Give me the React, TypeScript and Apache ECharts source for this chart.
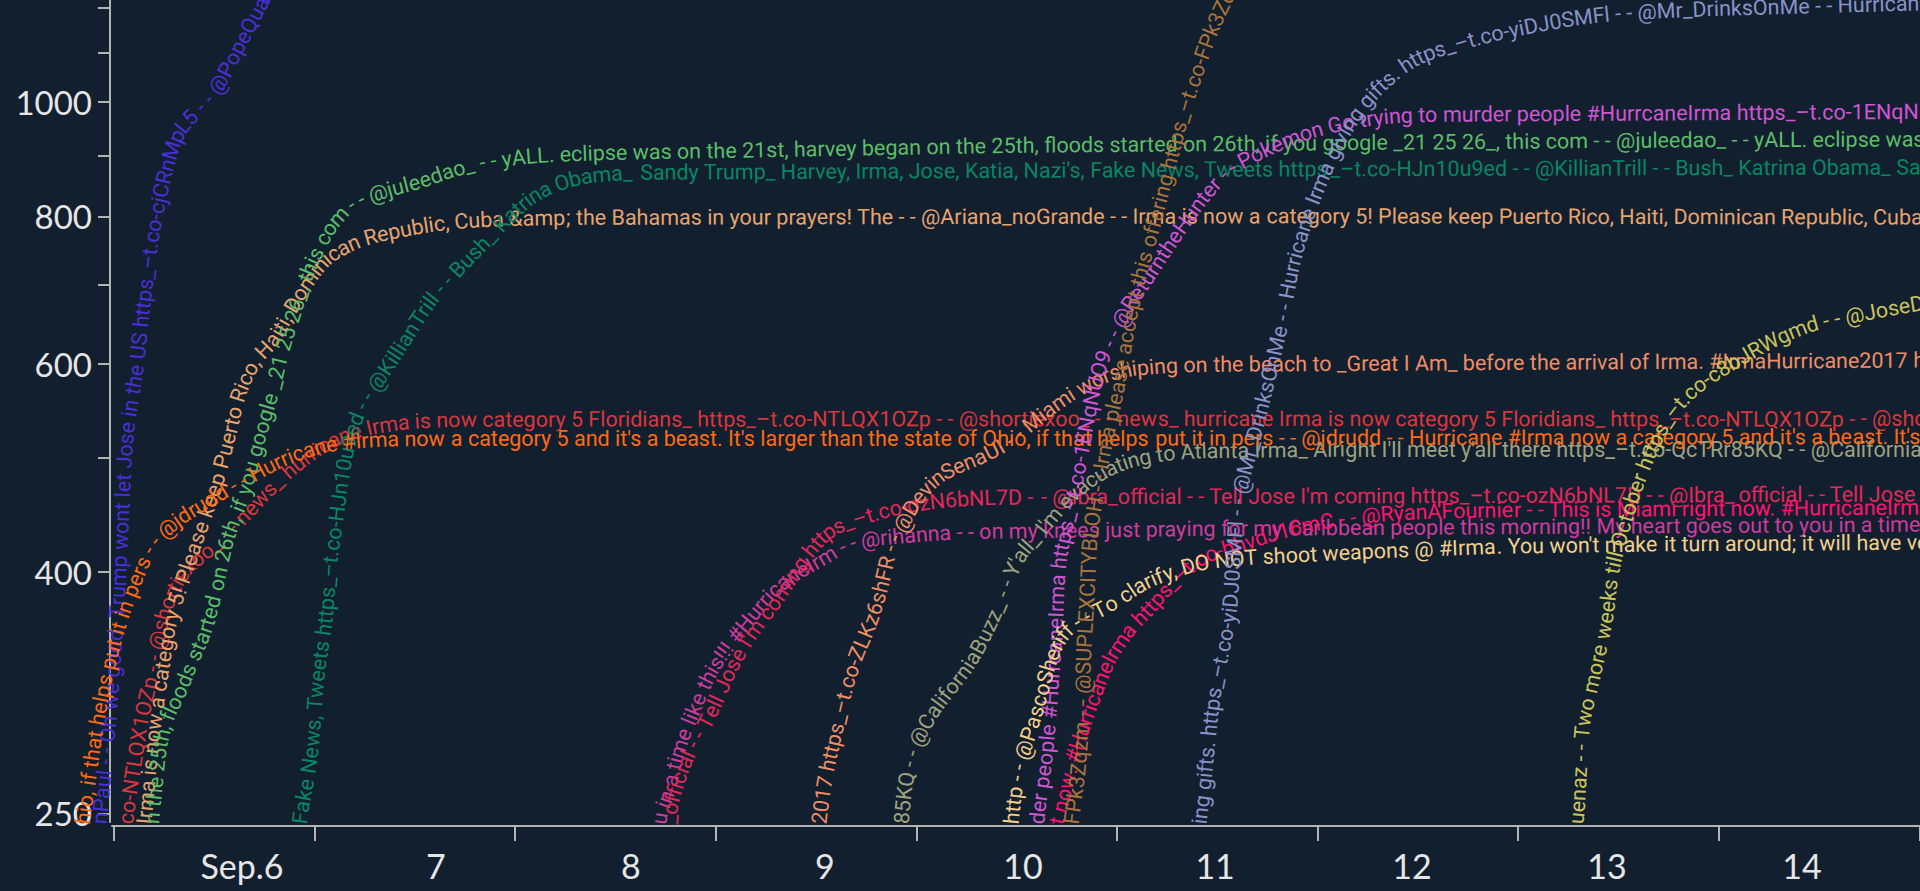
import React, { useEffect, useRef } from "react";
import * as echarts from "echarts";

// ---------- data ----------
// x values are days of September 2017 (6.5 = Sep 6, 12:00)

// draw order (later = on top)
const users = [
  "PopeQuanPaul", "shortiexoo_", "Ariana_noGrande", "juleedao_", "KillianTrill", "rihanna",
  "Ibra_official", "DevinSenaUI", "CaliforniaBuzz_", "jdrudd", "ReturntheHunter",
  "RyanAFournier", "PascoSheriff", "SUPLEXCITYBLOH", "Mr_DrinksOnMe", "JoseDuenaz",
];
const tweets = [
  "Oh we good. Trump wont let Jose in the US https_–t.co-cjCRnMpL5",
  "news_ hurricane Irma is now category 5 Floridians_ https_–t.co-NTLQX1OZp",
  "Irma is now a category 5! Please keep Puerto Rico, Haiti, Dominican Republic, Cuba &amp; the Bahamas in your prayers! The",
  "yALL. eclipse was on the 21st, harvey began on the 25th, floods started on 26th, if you google _21 25 26_, this com",
  "Bush_ Katrina Obama_ Sandy Trump_ Harvey, Irma, Jose, Katia, Nazi's, Fake News, Tweets https_–t.co-HJn10u9ed",
  "on my knees just praying for my Caribbean people this morning!! My heart goes out to you in a time like this!!! #HurricaneIrm",
  "Tell Jose I'm coming https_–t.co-ozN6bNL7D",
  "Miami worshiping on the beach to _Great I Am_ before the arrival of Irma. #IrmaHurricane2017 https_–t.co-ZLKz6shFR",
  "Y'all_ I'm evacuating to Atlanta Irma_ Alright I'll meet y'all there https_–t.co-QcTRr85KQ",
  "Hurricane #Irma now a category 5 and it's a beast. It's larger than the state of Ohio, if that helps put it in pers",
  "Pokemon Go trying to murder people #HurrcaneIrma https_–t.co-1ENqNUO9",
  "This is Miami right now. #HurricaneIrma https_–t.co-bhvdJ16mC",
  "To clarify, DO NOT shoot weapons @ #Irma. You won't make it turn around; it will have very dangerous side effects. http",
  "Irma please accept this offering https_–t.co-FPk3Zqzm",
  "Hurricane Irma giving gifts. https_–t.co-yiDJ0SMFl",
  "Two more weeks till October https_–t.co-c8bJRWgmd",
];
const starts = [
  "nPaul - -", "co-NTLQX1OZp", "nde - - Irma", "n the 25th", "Fake News", "u in a time",
  "_official", "2017 https", "85KQ", "hio, if that", "der people", "t now. #Hurr",
  "http - -", "FPk3Zqzm - -", "ing gifts.", "uenaz - -",
];
const colors = [
  "#4b2fd6", "#d9363e", "#e8a46c", "#5cbd68", "#0a8562", "#cc3c9e",
  "#e2285a", "#ef8e64", "#9ea27e", "#ff6a13", "#cf55d3",
  "#ff136f", "#f2d08c", "#a8743c", "#8a92c8", "#c9c45a",
];

const days: number[][] = [
  [5.915, 5.93, 5.965, 5.99, 6.015, 6.035, 6.055, 6.08, 6.11, 6.135, 6.16, 6.189, 6.229, 6.279, 6.319, 6.404, 6.494, 6.603, 6.728, 6.852],
  [6.04, 6.06, 6.095, 6.135, 6.179, 6.214, 6.269, 6.354, 6.479, 6.628, 6.768, 6.927, 7.092, 7.276, 7.525, 8.423, 15.003, 15.402],
  [6.13, 6.155, 6.189, 6.234, 6.279, 6.359, 6.444, 6.508, 6.568, 6.628, 6.703, 6.778, 6.877, 6.952, 7.062, 7.226, 7.426, 7.675, 8.024, 15.003, 15.402],
  [6.174, 6.189, 6.204, 6.229, 6.269, 6.319, 6.389, 6.454, 6.518, 6.563, 6.643, 6.728, 6.788, 6.842, 6.902, 6.957, 7.017, 7.082, 7.176, 7.326, 7.505, 7.75, 8.024, 8.921, 10.217, 12.61, 15.003, 15.402],
  [6.917, 6.927, 6.977, 7.012, 7.052, 7.077, 7.107, 7.137, 7.171, 7.211, 7.256, 7.336, 7.416, 7.5, 7.59, 7.71, 7.825, 7.974, 8.109, 8.308, 8.522, 8.921, 10.417, 15.003, 15.402],
  [8.702, 8.722, 8.762, 8.807, 8.871, 8.971, 9.061, 9.161, 9.32, 9.519, 9.684, 9.918, 10.217, 12.61, 15.003, 15.402],
  [8.757, 8.772, 8.802, 8.832, 8.882, 8.937, 9.006, 9.086, 9.196, 9.281, 9.371, 9.47, 9.57, 9.719, 9.918, 10.217, 11.414, 15.003, 15.402],
  [9.499, 9.514, 9.544, 9.574, 9.609, 9.644, 9.699, 9.759, 9.809, 9.843, 9.873, 9.933, 9.983, 10.103, 10.217, 10.302, 10.432, 10.541, 10.666, 10.816, 10.99, 11.214, 11.912, 15.003, 15.402],
  [9.913, 9.928, 9.948, 9.968, 10.003, 10.078, 10.167, 10.247, 10.327, 10.392, 10.437, 10.477, 10.526, 10.591, 10.716, 10.865, 11.04, 11.264, 11.663, 15.003, 15.402],
  [5.821, 5.845, 5.88, 5.92, 5.97, 6.04, 6.115, 6.189, 6.279, 6.394, 6.628, 6.872, 7.077, 7.326, 8.423, 10.417, 15.003, 15.402],
  [10.586, 10.606, 10.641, 10.666, 10.691, 10.701, 10.721, 10.751, 10.781, 10.825, 10.865, 10.915, 10.98, 11.04, 11.15, 11.239, 11.339, 11.439, 11.553, 11.663, 11.788, 11.937, 12.102, 12.376, 12.909, 15.003, 15.402],
  [10.676, 10.696, 10.726, 10.756, 10.791, 10.855, 10.915, 10.965, 11.055, 11.15, 11.214, 11.314, 11.414, 11.638, 11.897, 12.276, 12.61, 15.003, 15.402],
  [10.457, 10.472, 10.487, 10.511, 10.551, 10.591, 10.631, 10.666, 10.716, 10.776, 10.84, 10.915, 11.015, 11.13, 11.264, 11.389, 11.613, 12.062, 12.51, 12.909, 15.003, 15.402],
  [10.756, 10.771, 10.801, 10.821, 10.83, 10.835, 10.85, 10.865, 10.9, 10.94, 11.0, 11.055, 11.105, 11.164, 11.239, 11.314, 11.389, 11.464, 11.538, 11.638],
  [11.394, 11.409, 11.429, 11.444, 11.474, 11.504, 11.529, 11.563, 11.573, 11.588, 11.603, 11.703, 11.788, 11.828, 11.887, 11.992, 12.137, 12.266, 12.476, 12.76, 13.009, 13.408, 13.906, 14.405, 15.003, 15.402],
  [13.273, 13.288, 13.298, 13.308, 13.323, 13.373, 13.433, 13.463, 13.497, 13.532, 13.607, 13.722, 13.856, 14.091, 14.355, 14.47, 14.704, 15.003, 15.402],
];
// cumulative counts at those times
const counts: number[][] = [
  [224, 249, 286, 324, 372, 434, 508, 554, 593, 654, 707, 771, 834, 902, 943, 980, 1017, 1102, 1208, 1318],
  [224, 247, 272, 300, 324, 350.5, 379, 402, 419, 443, 469.5, 496, 517.5, 530, 537, 539, 539, 539],
  [224, 252, 288.5, 327.5, 364.5, 402, 443, 476, 520, 570, 605, 625, 667, 700, 738, 764, 779, 791, 797, 799, 799],
  [224, 247, 262, 286, 303, 315, 337, 358, 395, 427, 466, 526, 570, 620, 667, 714, 752, 787, 818, 839, 855, 882, 898, 910, 917.5, 926.5, 930, 930],
  [224, 247, 277.5, 325.5, 365, 409.7, 442.8, 483, 517.5, 543, 561.5, 588, 616.7, 650, 684, 721, 755, 802, 837, 862, 870.5, 872, 875.6, 880.7, 880.7],
  [224, 249.6, 261.7, 281.7, 301, 329, 347, 365, 390.7, 409.7, 424, 429, 432.4, 436.7, 439.2, 439.2],
  [224, 252, 264, 273, 285.7, 295.7, 313, 335, 359.3, 375, 395.3, 417.7, 434.3, 444.4, 454, 461.2, 463, 465.7, 465.7],
  [224, 245, 267, 283, 300, 318, 340, 359.3, 381, 402, 421.6, 440, 456.7, 481.3, 492.7, 499.5, 512.3, 529.6, 550.6, 572.5, 590.6, 597.6, 600, 604.8, 604.8],
  [224, 249, 267, 277.5, 289, 304.5, 319, 332, 350.5, 370, 386.4, 402.3, 416, 428.2, 454, 478.7, 495.6, 504.4, 507.5, 508.3, 508.3],
  [224, 247, 272, 303, 334, 368, 398, 422, 438.5, 452, 477, 501, 513, 518, 518, 519, 521, 521],
  [224, 252, 277.5, 310.5, 353.8, 390.7, 418.3, 442.8, 465.6, 507.5, 554, 598.7, 634.8, 666.6, 709.4, 749.2, 792.8, 835.6, 875.6, 898, 919.3, 941, 957.6, 972.7, 976.5, 982, 982],
  [224, 245, 256.7, 269.3, 283, 304.5, 324.3, 339, 357.4, 371.6, 382.5, 397.6, 411, 423.3, 436.7, 447, 450.5, 454, 454],
  [224, 245, 259, 274.6, 288.5, 303.3, 321, 337.2, 351.8, 360.8, 366.4, 371.6, 380.2, 391.5, 400, 406.3, 411, 415.1, 418.3, 420.8, 424.1, 424.1],
  [224, 245, 267, 294.2, 324.3, 345, 379, 426.6, 469.5, 513.3, 571.4, 647.3, 707.2, 768.4, 859.2, 961.4, 1053.6, 1143.5, 1219.4, 1318],
  [224, 245, 261.7, 277.5, 309.3, 330.7, 346.3, 373.6, 394.8, 428.2, 460.4, 538, 616.7, 662.6, 741.9, 839, 946.5, 1013.3, 1085, 1128, 1154.6, 1184.3, 1198.2, 1205.2, 1212.3, 1214.7],
  [224, 245, 257, 277.5, 298.6, 326.6, 362.9, 397.6, 421.6, 442.8, 483.2, 533, 568.1, 604.8, 638.5, 649, 661.3, 675.6, 690.3],
];

// axes
const X_MIN_DAY = 5.99;
const X_MAX_DAY = 15.003;
const X_TICK_DAYS = [6, 7, 8, 9, 10, 11, 12, 13, 14, 15];
const X_LABEL_DAYS = [6.638, 7.605, 8.577, 9.544, 10.531, 11.489, 12.471, 13.443, 14.415];
const Y_MIN = 245.8;
const Y_MAX = 1219.4;
const Y_TICKS = [250, 400, 500, 600, 700, 800, 900, 1000, 1100, 1200];
const Y_LABELS = [250, 400, 600, 800, 1000];

// ---------- styles ----------
const BG = "#121f2f";
const AXIS = "#b4b4b4";
const LABEL = "#e6e6e6";
const FONT = "21.5px Roboto";
const CLIP_Y = 824;
const TH = 0.015;
const MAXLEN = 700;

let mctx: CanvasRenderingContext2D | null = null;
const wcache: Record<string, number> = {};
function charW(ch: string): number {
  if (wcache[ch] !== undefined) return wcache[ch];
  if (!mctx) mctx = document.createElement("canvas").getContext("2d");
  mctx!.font = FONT;
  const w = mctx!.measureText(ch).width;
  wcache[ch] = w;
  return w;
}

function smooth(P: number[][]): number[][] {
  const n = P.length;
  const get = (i: number) => {
    if (i < 0) return [2 * P[0][0] - P[1][0], 2 * P[0][1] - P[1][1]];
    if (i >= n) return [2 * P[n - 1][0] - P[n - 2][0], 2 * P[n - 1][1] - P[n - 2][1]];
    return P[i];
  };
  const dist = (a: number[], b: number[]) => Math.max(Math.pow(Math.hypot(b[0] - a[0], b[1] - a[1]), 0.5), 1e-3);
  const out: number[][] = [];
  for (let i = 0; i < n - 1; i++) {
    const p0 = get(i - 1), p1 = P[i], p2 = P[i + 1], p3 = get(i + 2);
    const t0 = 0, t1 = t0 + dist(p0, p1), t2 = t1 + dist(p1, p2), t3 = t2 + dist(p2, p3);
    const seg = Math.hypot(p2[0] - p1[0], p2[1] - p1[1]);
    const m = Math.max(2, Math.ceil(seg / 3));
    for (let j = 0; j < m; j++) {
      const t = t1 + ((t2 - t1) * j) / m;
      const L = (a: number[], b: number[], ta: number, tb: number) => {
        const u = (t - ta) / (tb - ta);
        return [a[0] + (b[0] - a[0]) * u, a[1] + (b[1] - a[1]) * u];
      };
      const A1 = L(p0, p1, t0, t1), A2 = L(p1, p2, t1, t2), A3 = L(p2, p3, t2, t3);
      const B1 = L(A1, A2, t0, t2), B2 = L(A2, A3, t1, t3);
      out.push(L(B1, B2, t1, t2));
    }
  }
  out.push(P[n - 1]);
  return out;
}

function layoutText(pts: number[][], pattern: string, startIdx: number, color: string) {
  const path = smooth(pts);
  const cum = [0];
  for (let i = 1; i < path.length; i++) {
    cum.push(cum[i - 1] + Math.hypot(path[i][0] - path[i - 1][0], path[i][1] - path[i - 1][1]));
  }
  const total = cum[cum.length - 1];
  const at = (s: number) => {
    if (s <= 0) return path[0];
    if (s >= total) return path[path.length - 1];
    let lo = 0, hi = cum.length - 1;
    while (hi - lo > 1) {
      const mid = (lo + hi) >> 1;
      if (cum[mid] <= s) lo = mid; else hi = mid;
    }
    const u = (s - cum[lo]) / (cum[hi] - cum[lo] || 1);
    return [path[lo][0] + (path[hi][0] - path[lo][0]) * u, path[lo][1] + (path[hi][1] - path[lo][1]) * u];
  };
  let s0 = 0;
  for (let i = 1; i < path.length; i++) {
    if (path[i - 1][1] > CLIP_Y && path[i][1] <= CLIP_Y) {
      const u = (path[i - 1][1] - CLIP_Y) / (path[i - 1][1] - path[i][1]);
      s0 = cum[i - 1] + (cum[i] - cum[i - 1]) * u;
      break;
    }
  }
  const angleAt = (s: number) => {
    const a = at(s - 3), b = at(s + 3);
    return Math.atan2(b[1] - a[1], b[0] - a[0]);
  };
  const els: any[] = [];
  let chunk: any = null;
  const flush = () => {
    if (!chunk) return;
    const p1 = at(chunk.s0), p2 = at(chunk.s1);
    const ang = Math.atan2(p2[1] - p1[1], p2[0] - p1[0]);
    const cx = (p1[0] + p2[0]) / 2, cy = (p1[1] + p2[1]) / 2;
    if (cx > -60 && cx < 2000 && cy > -40) {
      els.push({
        type: "text",
        x: cx,
        y: cy,
        rotation: -ang,
        silent: true,
        style: { text: chunk.text, fill: color, font: FONT, align: "center", verticalAlign: "middle" },
      });
    }
    chunk = null;
  };
  let s = s0;
  let k = startIdx;
  let guard = 0;
  while (s < total && guard++ < 5000) {
    const ch = pattern[k % pattern.length];
    k++;
    const w = charW(ch);
    const p = at(s + w / 2);
    if (p[0] > 1960 || p[1] < -40) break;
    if (ch === " ") {
      if (chunk) chunk.pending += " ";
      s += w;
      continue;
    }
    const ang = angleAt(s + w / 2);
    if (chunk && Math.abs(ang - chunk.a0) < TH && s + w - chunk.s0 < MAXLEN) {
      chunk.text += chunk.pending + ch;
      chunk.pending = "";
      chunk.s1 = s + w;
    } else {
      flush();
      chunk = { text: ch, s0: s, s1: s + w, a0: ang, pending: "" };
    }
    s += w;
  }
  flush();
  return els;
}

export default function App() {
  const ref = useRef<HTMLDivElement>(null);
  useEffect(() => {
    if (!ref.current) return;
    const chart = echarts.init(ref.current, undefined, { renderer: "svg" });
    const series = users.map((user, i) => {
      const pattern = tweets[i] + " - - @" + user + " - - ";
      const si = pattern.indexOf(starts[i]);
      const startIdx = si < 0 ? 0 : si;
      const data = days[i].map((d, j) => [d, counts[i][j]]);
      return {
        type: "custom",
        name: "@" + user,
        data,
        silent: true,
        renderItem: (params: any, api: any) => {
          if (params.dataIndexInside !== 0) return null;
          const pts = data.map((p) => api.coord(p));
          return { type: "group", children: layoutText(pts, pattern, startIdx, colors[i]) };
        },
      };
    });
    const lineStyle = { color: AXIS, width: 2 };
    chart.setOption({
      animation: false,
      backgroundColor: BG,
      grid: { left: 112, top: 0, right: 0, bottom: 69 },
      xAxis: {
        type: "value",
        min: X_MIN_DAY,
        max: X_MAX_DAY,
        offset: 4,
        axisLine: { show: true, onZero: false, lineStyle },
        axisTick: { show: true, length: 15, customValues: X_TICK_DAYS, lineStyle },
        axisLabel: {
          customValues: X_LABEL_DAYS,
          formatter: (v: number) => {
            const d = Math.floor(v);
            return d === 6 ? "Sep.6" : String(d);
          },
          color: LABEL,
          fontFamily: "Lato",
          fontSize: 34,
          margin: 22,
        },
        splitLine: { show: false },
      },
      yAxis: {
        type: "log",
        min: Y_MIN,
        max: Y_MAX,
        offset: 2,
        axisLine: { show: true, lineStyle },
        axisTick: { show: true, length: 12, customValues: Y_TICKS, lineStyle },
        axisLabel: {
          customValues: Y_LABELS,
          formatter: (v: number) => String(Math.round(v)),
          color: LABEL,
          fontFamily: "Lato",
          fontSize: 33,
          margin: 18,
        },
        splitLine: { show: false },
      },
      series,
    });
    return () => chart.dispose();
  }, []);
  return <div ref={ref} style={{ position: "fixed", left: 0, top: 0, width: 1920, height: 891 }} />;
}
